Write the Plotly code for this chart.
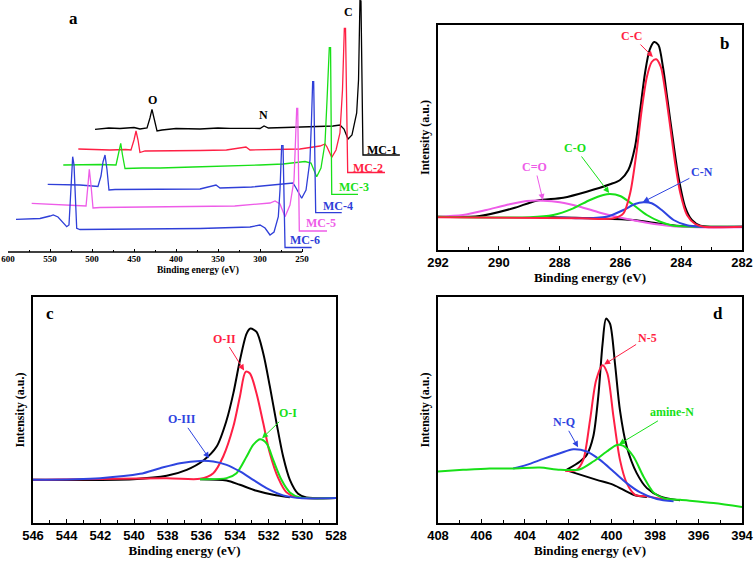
import plotly.graph_objects as go

SERIF = "Liberation Serif"
SANS = "Liberation Sans"
RED, GREEN, BLUE, MAGENTA, BLACK = "#ff1f44", "#18e018", "#2e44e0", "#ee5ce8", "#000000"
BLUE_A = "#2f3fd8"

# ---- panel a: survey spectra, stacked (binding energy eV, offset intensity) ----
mc1_e = [496.4, 480, 466.7, 450, 442.9, 434.5, 431.0, 428.6, 426.2, 422.6, 416.7, 400, 371.4, 350, 335.7, 310, 300,
         295.2, 290, 270, 252.4, 230, 213.1, 204.8, 200, 195.2, 190.5, 184.9, 182.7, 181.0, 179.8, 177.4, 133.5]
mc1_i = [122.7, 124, 123.5, 124.5, 123, 124, 134, 142.7, 134, 121, 122, 123.5, 123, 124, 123.7, 124, 123.5,
         126, 124, 124.5, 125, 125.5, 126, 127, 123, 113, 117, 139, 172, 251.5, 251, 97, 97]
mc2_e = [516.3, 495, 478.6, 460, 453.6, 450, 447.6, 445.2, 442.9, 436.9, 410, 371.4, 340, 316.7, 311.9, 280, 252.4,
         228.6, 222.6, 220.2, 214.6, 209.5, 204.8, 201.8, 199.6, 198.2, 195.6, 151.2]
mc2_i = [103, 102.5, 102, 102.5, 102, 112, 121, 112, 99.5, 101, 101.5, 101.5, 102, 105, 102, 102.5, 103,
         106, 108, 105, 94.7, 102, 119, 162, 223.7, 223.7, 79.5, 79.5]
mc3_e = [534.2, 510, 490.5, 471.4, 467.9, 465.8, 463.7, 460.7, 440, 419, 380, 332.1, 300, 272.6, 246.4, 239.3,
         232.5, 227.4, 222.6, 220.2, 217.5, 216.0, 214.6, 183.3]
mc3_i = [87, 87.5, 87.5, 87, 100, 108.7, 97, 83.5, 84, 84, 85, 86, 87, 88, 90.5, 89,
         75.3, 84, 109, 152, 204.3, 204.3, 57.7, 57.7]
mc4_e = [552.7, 530, 514.3, 492.9, 489.3, 486.9, 484.5, 482.1, 479.8, 472.6, 430, 371.4, 352.4, 347.6, 310,
         276.2, 260.7, 257.1, 250.4, 245.2, 240.5, 238.7, 237.3, 236.1, 233.7, 202.7]
mc4_i = [67.7, 67.5, 67, 65.5, 76, 90, 97, 82, 62, 62.5, 63, 63, 67, 64, 65,
         68, 69, 64, 53.7, 62, 92, 132, 170.3, 170.3, 39.3, 39.3]
mc5_e = [571.8, 545, 526.2, 507.1, 504.8, 503.2, 501.2, 498.8, 490.5, 430, 371.4, 330, 288.1, 282.1, 276.2,
         270.2, 264.3, 259.5, 257.7, 256.3, 255.1, 253.2, 220.2]
mc5_i = [48.7, 47.5, 47, 46, 67, 82.7, 67, 44, 44.5, 45, 45.5, 46, 49, 51, 48,
         35.3, 47, 72, 112, 143.7, 143.7, 21, 21]
mc6_e = [590.5, 561.9, 550, 546.1, 540.5, 534.5, 530.1, 527.4, 525, 523, 521.4, 519.6, 518.2, 514.3, 470, 431,
         371.4, 311.9, 300, 294, 288.1, 283.3, 278.2, 276.2, 274.2, 272.6, 270.2, 238.5]
mc6_i = [32.7, 33.5, 36, 37, 35, 30, 25.3, 27, 62, 95.3, 87, 52, 23.7, 22.5, 23, 23,
         23.5, 25, 27, 24, 17, 20, 35.3, 62, 106.3, 106.3, 4.5, 4.5]
survey_names = ["MC-1", "MC-2", "MC-3", "MC-4", "MC-5", "MC-6"]
survey_label_e = [154.8, 171.4, 188.1, 207.1, 227.4, 246.4]
survey_label_i = [102.5, 84.5, 65, 46, 29, 12]
survey_ticks = [600, 550, 500, 450, 400, 350, 300, 250]

# ---- panel b: C 1s ----
c_env_e = [292, 290.63, 289.53, 288.76, 287.88, 287.11, 286.34, 286.01, 285.74, 285.52, 285.35, 285.19, 285.04,
           284.89, 284.75, 284.60, 284.45, 284.27, 284.09, 283.87, 283.65, 283.37, 282.93, 282]
c_env_i = [33.3, 34, 41.7, 49.3, 52.3, 58.3, 65.7, 70, 80, 103, 140, 177, 200,
           208, 205, 183, 150, 110, 73, 43, 30, 24.3, 23.3, 23.3]
c_cc_e = [292, 287.33, 286.23, 285.90, 285.68, 285.46, 285.30, 285.13, 284.97, 284.82, 284.67, 284.53, 284.36,
          284.20, 284.03, 283.81, 283.54, 283.26, 282]
c_cc_i = [32.7, 31.7, 31.7, 36.7, 56.7, 100, 140, 173, 188, 190.7, 183, 160, 123,
          87, 57, 35, 26, 23.3, 23.3]
c_co_e = [292, 288.98, 288.21, 287.55, 287.0, 286.56, 286.34, 286.01, 285.57, 285.13, 284.69, 284.25, 283.48, 282]
c_co_i = [33.3, 32.7, 35, 41.7, 50, 55, 56, 54, 45, 35, 28.3, 24.3, 23.3, 23.3]
c_cn_e = [288.0, 287.33, 286.45, 285.90, 285.52, 285.24, 284.97, 284.64, 284.25, 283.81, 283.37, 282]
c_cn_i = [32.5, 31.7, 33.3, 40, 46, 47.7, 46.7, 40, 30, 24.7, 23.3, 23.3]
c_c2o_e = [292, 291.18, 290.41, 289.75, 289.09, 288.54, 287.99, 287.33, 286.67, 285.90, 285.13, 284.36, 283.48, 282]
c_c2o_i = [33.3, 35, 40, 45, 49, 49.3, 47.7, 43.3, 37.3, 31.7, 27.3, 24, 22.7, 22.7]
c_bg_e = [288.65, 286.78, 285.57, 284.80, 284.03, 283.37]
c_bg_i = [33, 31.7, 30, 26.7, 24, 23.3]

# ---- panel c: O 1s ----
o_env_e = [546, 540.03, 538.06, 536.87, 535.88, 535.09, 534.50, 534.10, 533.71, 533.31, 533.08, 532.72, 532.32,
           531.93, 531.53, 531.14, 530.74, 530.25, 529.76, 528]
o_env_i = [43.3, 44, 47.3, 53.3, 62.7, 76.7, 103, 130, 163, 190, 195, 191.7, 170,
           137, 100, 66.7, 43.3, 29.3, 25.7, 25]
o_ii_e = [546, 538.06, 536.08, 535.29, 534.70, 534.10, 533.71, 533.37, 533.11, 532.72, 532.32, 531.93, 531.43,
          530.94, 530.35, 528]
o_ii_i = [43.3, 45, 44.3, 50, 66.7, 96.7, 126.7, 151.7, 150, 130, 100, 70, 45, 30.7, 25.7, 25]
o_i_e = [536.08, 534.50, 533.91, 533.31, 532.92, 532.52, 532.13, 531.73, 531.24, 530.74, 530.15, 528]
o_i_i = [44, 45, 50, 66.7, 78.3, 84, 80, 63.3, 43.3, 30.7, 25.7, 25]
o_iii_e = [546, 542.01, 539.64, 538.45, 537.27, 536.08, 535.29, 534.50, 533.71, 532.92, 532.13, 531.14, 530.15, 528]
o_iii_i = [43.3, 45, 49.3, 55, 60, 62.3, 61.7, 58.3, 51.7, 43.3, 35, 27.7, 25, 25]
o_bg_e = [536.08, 534.50, 533.71, 532.72, 531.73, 530.74]
o_bg_i = [44, 42.7, 38.3, 32.3, 28.3, 25.7]

# ---- panel d: N 1s ----
n_env_e = [402.08, 401.46, 401.15, 400.85, 400.62, 400.42, 400.26, 400.08, 399.85, 399.62, 399.31, 398.85,
           398.38, 397.77, 396.85]
n_env_i = [53.3, 61.7, 68.3, 86.7, 126.7, 180, 205, 200, 160, 113, 76.7, 50, 35, 26.7, 22.7]
n_5_e = [402.15, 401.62, 401.31, 401.0, 400.72, 400.42, 400.2, 399.92, 399.62, 399.31, 398.92, 398.38, 397.46]
n_5_i = [52.3, 53.3, 63.3, 103, 143, 158.3, 150, 106.7, 63.3, 40, 28.3, 26.7, 23.3]
n_am_e = [408, 406.85, 405.62, 404.54, 403.31, 402.38, 401.46, 400.85, 400.23, 399.77, 399.46, 399.0, 398.54,
          398.08, 397.62, 396.85, 395.31, 394]
n_am_i = [51.7, 53.3, 54.7, 54.7, 55.7, 53.3, 54, 61.7, 71.7, 78.3, 77.3, 66.7, 46.7, 30.7, 25, 23.3, 20, 16]
n_q_e = [404.54, 403.92, 403.15, 402.38, 401.77, 401.15, 400.54, 399.92, 399.31, 398.69, 397.92, 397.15]
n_q_i = [54.7, 58.3, 64.3, 70, 74, 71.7, 63.3, 51.7, 40, 30.7, 24, 21.7]
n_bg_e = [402.15, 400.69, 399.92, 399.0, 398.38]
n_bg_i = [53.3, 43.3, 38.3, 28.3, 26]

W, H = 756, 562


def px_dom(a, b, size):
    return [a / size, b / size]


def py_dom(top, bottom):
    return [1 - bottom / H, 1 - top / H]


fig = go.Figure()


def add(x, y, color, ax, width=2, shape="spline"):
    fig.add_trace(go.Scatter(x=x, y=y, mode="lines", xaxis="x" + ax, yaxis="y" + ax,
                             line=dict(color=color, width=width, shape=shape, smoothing=0.8),
                             hoverinfo="skip"))


survey = [(mc1_e, mc1_i, BLACK), (mc2_e, mc2_i, RED), (mc3_e, mc3_i, GREEN),
          (mc4_e, mc4_i, BLUE_A), (mc5_e, mc5_i, MAGENTA), (mc6_e, mc6_i, BLUE_A)]
for e, i, c in survey:
    fig.add_trace(go.Scatter(x=e, y=i, mode="lines", xaxis="x", yaxis="y",
                             line=dict(color=c, width=1.3), hoverinfo="skip"))

add(c_bg_e, c_bg_i, BLACK, "2")
add(c_env_e, c_env_i, BLACK, "2")
add(c_c2o_e, c_c2o_i, MAGENTA, "2")
add(c_co_e, c_co_i, GREEN, "2")
add(c_cn_e, c_cn_i, BLUE, "2")
add(c_cc_e, c_cc_i, RED, "2")

add(o_bg_e, o_bg_i, BLACK, "3")
add(o_env_e, o_env_i, BLACK, "3")
add(o_ii_e, o_ii_i, RED, "3")
add(o_i_e, o_i_i, GREEN, "3")
add(o_iii_e, o_iii_i, BLUE, "3")

add(n_bg_e, n_bg_i, BLACK, "4")
add(n_env_e, n_env_i, BLACK, "4")
add(n_5_e, n_5_i, RED, "4")
add(n_q_e, n_q_i, BLUE, "4")
add(n_am_e, n_am_i, GREEN, "4")

tick_font = dict(family=SANS, size=13, color="black", weight="bold")
title_font = dict(family=SERIF, size=13, color="black", weight="bold")


def boxed_x(rng, dom, dtick):
    return dict(range=rng, domain=dom, showline=True, mirror=True, linecolor="black", linewidth=1.5,
                ticks="inside", ticklen=4, tickwidth=1.3, tickcolor="black", dtick=dtick,
                minor=dict(dtick=dtick / 2, ticks="inside", ticklen=3, tickwidth=1.3, tickcolor="black"),
                showgrid=False, zeroline=False, tickfont=tick_font, automargin=False,
                title=dict(text="Binding energy (eV)", font=title_font, standoff=0))


def boxed_y(rng, dom, anchor):
    return dict(range=rng, domain=dom, showline=True, mirror=True, linecolor="black", linewidth=1.5,
                ticks="", showticklabels=False, showgrid=False, zeroline=False, anchor=anchor,
                automargin=False,
                title=dict(text="Intensity (a.u.)", font=dict(family=SERIF, size=12, color="black",
                                                              weight="bold"), standoff=4))


dom_a_x = px_dom(8, 402, W)
dom_a_y = py_dom(0, 252)
fig.update_layout(
    width=W, height=H, margin=dict(l=0, r=0, t=0, b=0, autoexpand=False),
    paper_bgcolor="white", plot_bgcolor="white", showlegend=False,
    xaxis=dict(range=[600, 600 - 394 / 0.84], domain=dom_a_x, anchor="y", showline=False,
               tickmode="array", tickvals=survey_ticks, ticks="inside", ticklen=3, tickwidth=1,
               tickcolor="black", showgrid=False, zeroline=False, automargin=False,
               minor=dict(tickmode="array", tickvals=[575, 525, 475, 425, 375, 325, 275],
                          ticks="inside", ticklen=2, tickwidth=1, tickcolor="black"),
               tickfont=dict(family=SERIF, size=9, color="black", weight="bold")),
    yaxis=dict(range=[0, 252], domain=dom_a_y, visible=False, anchor="x", automargin=False),
    xaxis2={**boxed_x([292, 282], px_dom(438, 742, W), 2), "anchor": "y2"},
    yaxis2=boxed_y([0, 225], py_dom(25, 250), "x2"),
    xaxis3={**boxed_x([546, 528], px_dom(33, 336, W), 2), "anchor": "y3"},
    yaxis3=boxed_y([0, 226.7], py_dom(297, 523), "x3"),
    xaxis4={**boxed_x([408, 394], px_dom(438, 742, W), 2), "anchor": "y4"},
    yaxis4=boxed_y([0, 226.7], py_dom(297, 523), "x4"),
)

# survey axis line (only over the labelled energy span)
fig.add_shape(type="line", xref="x", yref="paper", x0=600, x1=250, y0=dom_a_y[0], y1=dom_a_y[0],
              line=dict(color="black", width=1.3))

ann = []
lab = dict(family=SERIF, size=12, weight="bold")
ann.append(dict(x=155 / W, y=1 - 270 / H, xref="paper", yref="paper", text="Binding energy (eV)",
                showarrow=False, font=dict(family=SERIF, size=9.5, color="black", weight="bold")))
ann.append(dict(x=522.6, y=234, xref="x", yref="y", text="a", showarrow=False,
                font=dict(family=SERIF, size=17, color="black", weight="bold")))
for t, x, y in [("O", 427.4, 152), ("N", 296.4, 137), ("C", 195.2, 240)]:
    ann.append(dict(x=x, y=y, xref="x", yref="y", text=t, showarrow=False, font={**lab, "color": "black"}))
for name, x, y, (_, _, c) in zip(survey_names, survey_label_e, survey_label_i, survey):
    ann.append(dict(x=x, y=y, xref="x", yref="y", text=name, showarrow=False, font={**lab, "color": c}))

for t, x, y, ax in [("b", 282.56, 207, "2"), ("c", 544.99, 210, "3"), ("d", 395.1, 210, "4")]:
    ann.append(dict(x=x, y=y, xref="x" + ax, yref="y" + ax, text=t, showarrow=False,
                    font=dict(family=SERIF, size=17, color="black", weight="bold")))

# peak labels with arrows: (text, label e, label i, head e, head i, axis, colour)
peak_labels = [
    ("C-C", 285.62, 214, 284.93, 193, "2", RED),
    ("C-O", 287.49, 102, 286.37, 57, "2", GREEN),
    ("C=O", 288.81, 83, 288.55, 50, "2", MAGENTA),
    ("C-N", 283.32, 78, 285.26, 48, "2", BLUE),
    ("O-II", 534.65, 185, 533.46, 153, "3", RED),
    ("O-I", 530.85, 110, 532.39, 85, "3", GREEN),
    ("O-III", 537.15, 104, 535.54, 65, "3", BLUE),
    ("N-5", 398.37, 186, 400.35, 159, "4", RED),
    ("amine-N", 397.22, 111, 399.66, 79, "4", GREEN),
    ("N-Q", 402.2, 101, 401.55, 76, "4", BLUE),
]
for t, lx, ly, hx, hy, a, c in peak_labels:
    ann.append(dict(x=hx, y=hy, ax=lx, ay=ly, xref="x" + a, yref="y" + a, axref="x" + a, ayref="y" + a,
                    text=t, showarrow=True, arrowhead=2, arrowsize=1.2, arrowwidth=1, arrowcolor=c,
                    font={**lab, "color": c}))
fig.update_layout(annotations=ann)

# drop the browser's default body margin so the figure sits at the window's corner
fig.write_html("out.html", config={"displayModeBar": False},
               post_script="document.body.style.margin='0px';")
